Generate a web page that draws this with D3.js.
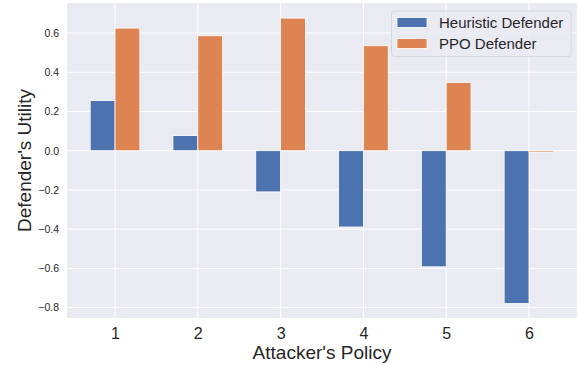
<!DOCTYPE html>
<html>
<head>
<meta charset="utf-8">
<script src="https://cdn.jsdelivr.net/npm/d3@7"></script>
<style>
  body { margin: 0; background: #fff; }
  text { font-family: "Liberation Sans", Arial, sans-serif; }
</style>
</head>
<body>
<script>
const width = 579;
const height = 366;
const margin = {left: 67, right: 2, top: 3, bottom: 48};

const policies = [1, 2, 3, 4, 5, 6];
const heuristicValues = [0.256, 0.077, -0.21, -0.389, -0.592, -0.779];
const ppoValues = [0.625, 0.586, 0.676, 0.535, 0.348, -0.007];
const seriesNames = ['Heuristic Defender', 'PPO Defender'];
const seriesColors = ['#4c72b0', '#dd8452'];
const yTicks = [-0.8, -0.6, -0.4, -0.2, 0.0, 0.2, 0.4, 0.6];
const barWidth = 0.3;

const series = [heuristicValues, ppoValues];

const xScale = d3.scaleLinear()
  .domain([0.42, 6.58])
  .range([margin.left, width - margin.right]);

const yScale = d3.scaleLinear()
  .domain([-0.853, 0.753])
  .range([height - margin.bottom, margin.top]);

const svg = d3.select('body')
  .append('svg')
  .attr('width', width)
  .attr('height', height);

svg.append('rect')
  .attr('x', margin.left)
  .attr('y', margin.top)
  .attr('width', width - margin.left - margin.right)
  .attr('height', height - margin.top - margin.bottom)
  .attr('fill', '#eaeaf2');

// grid
svg.append('g')
  .selectAll('line')
  .data(yTicks)
  .enter()
  .append('line')
  .attr('x1', margin.left)
  .attr('x2', width - margin.right)
  .attr('y1', d => yScale(d))
  .attr('y2', d => yScale(d))
  .attr('stroke', '#fff')
  .attr('stroke-width', 1);

svg.append('g')
  .selectAll('line')
  .data(policies)
  .enter()
  .append('line')
  .attr('x1', d => xScale(d))
  .attr('x2', d => xScale(d))
  .attr('y1', margin.top)
  .attr('y2', height - margin.bottom)
  .attr('stroke', '#fff')
  .attr('stroke-width', 1);

// bars
series.forEach((values, i) => {
  svg.append('g')
    .selectAll('rect')
    .data(values)
    .enter()
    .append('rect')
    .attr('x', (d, j) => xScale(policies[j] + (i - 1) * barWidth))
    .attr('width', xScale(barWidth) - xScale(0))
    .attr('y', d => yScale(Math.max(0, d)))
    .attr('height', d => Math.abs(yScale(d) - yScale(0)))
    .attr('fill', seriesColors[i])
    .attr('stroke', '#fff')
    .attr('stroke-width', 0.8);
});

// axes
const xAxis = d3.axisBottom(xScale)
  .tickValues(policies)
  .tickSize(0)
  .tickPadding(10)
  .tickFormat(d3.format('d'));

const yAxis = d3.axisLeft(yScale)
  .tickValues(yTicks)
  .tickSize(0)
  .tickPadding(8)
  .tickFormat(d => d3.format('.1f')(d).replace('-', '\u2212'));

const gx = svg.append('g')
  .attr('transform', 'translate(0,' + (height - margin.bottom) + ')')
  .call(xAxis);
gx.select('.domain').remove();
gx.selectAll('text')
  .attr('font-size', 16)
  .attr('fill', '#262626');

const gy = svg.append('g')
  .attr('transform', 'translate(' + margin.left + ',0)')
  .call(yAxis);
gy.select('.domain').remove();
gy.selectAll('text')
  .attr('font-size', 10.5)
  .attr('fill', '#262626');

svg.append('text')
  .attr('x', (margin.left + width - margin.right) / 2)
  .attr('y', 359)
  .attr('text-anchor', 'middle')
  .attr('font-size', 19)
  .attr('fill', '#262626')
  .text("Attacker's Policy");

svg.append('text')
  .attr('transform', 'translate(31,' + ((margin.top + height - margin.bottom) / 2) + ') rotate(-90)')
  .attr('text-anchor', 'middle')
  .attr('font-size', 19)
  .attr('fill', '#262626')
  .text("Defender's Utility");

// legend
const legend = svg.append('g');
legend.append('rect')
  .attr('x', 391.5)
  .attr('y', 11)
  .attr('width', 179.5)
  .attr('height', 45.5)
  .attr('rx', 3)
  .attr('fill', '#eaeaf2')
  .attr('fill-opacity', 0.8)
  .attr('stroke', '#d6d6de')
  .attr('stroke-width', 1);

seriesNames.forEach((name, i) => {
  const cy = 22.5 + i * 21;
  legend.append('rect')
    .attr('x', 397)
    .attr('y', cy - 5)
    .attr('width', 30)
    .attr('height', 10)
    .attr('fill', seriesColors[i])
    .attr('stroke', '#fff')
    .attr('stroke-width', 0.8);
  legend.append('text')
    .attr('x', 439)
    .attr('y', cy + 5.5)
    .attr('font-size', 15)
    .attr('fill', '#262626')
    .text(name);
});
</script>
</body>
</html>
